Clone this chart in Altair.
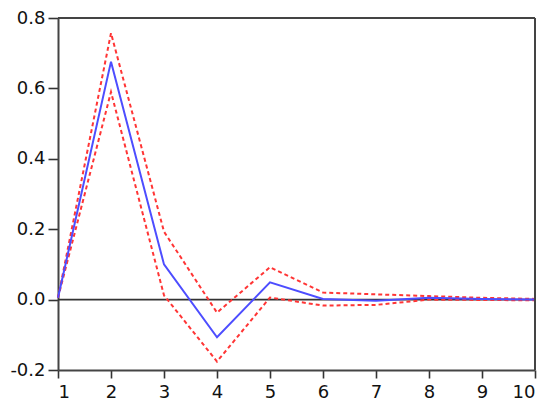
import altair as alt
import pandas as pd

periods = [1, 2, 3, 4, 5, 6, 7, 8, 9, 10]
response = [0.005, 0.676, 0.100, -0.107, 0.049, 0.002, -0.003, 0.005, 0.002, 0.000]
upper = [0.005, 0.757, 0.193, -0.037, 0.092, 0.020, 0.015, 0.010, 0.005, 0.002]
lower = [0.005, 0.590, 0.012, -0.176, 0.006, -0.017, -0.015, 0.000, -0.001, -0.002]
y_ticks = [-0.2, 0.0, 0.2, 0.4, 0.6, 0.8]

rows = []
for name, vals in [("response", response), ("upper", upper), ("lower", lower)]:
    for p, v in zip(periods, vals):
        rows.append({"period": p, "value": v, "series": name})
df = pd.DataFrame(rows)

W, H = 477, 352
xscale = alt.Scale(domain=[1, 10], nice=False, zero=False)
yscale = alt.Scale(domain=[-0.2, 0.8], nice=False)

FONT = "DejaVu Sans"
FRAME = "#444"
xaxis = alt.Axis(values=periods, format="d", grid=False, domain=True, domainColor=FRAME,
                 domainWidth=2, tickSize=8,
                 tickColor="#333", tickWidth=1.6, labelFontSize=18, labelColor="#111",
                 labelFont=FONT, labelPadding=5, title=None)
yaxis = alt.Axis(values=y_ticks, grid=False,
                 labelExpr="replace(format(datum.value, '.1f'), '\u2212', '-')",
                 domain=True, domainColor=FRAME, domainWidth=2,
                 tickSize=10, tickColor="#333", tickWidth=1.6, labelFontSize=18,
                 labelColor="#111", labelFont=FONT, labelPadding=3, title=None)

zero = alt.Chart(pd.DataFrame({"y": [0.0]})).mark_rule(color="#333", strokeWidth=1.6).encode(
    y=alt.Y("y:Q", scale=yscale, axis=yaxis)
)

top = alt.Chart(pd.DataFrame({"y": [0.8]})).mark_rule(color=FRAME, strokeWidth=2).encode(
    y=alt.Y("y:Q", scale=yscale, axis=yaxis)
)
right = alt.Chart(pd.DataFrame({"x": [10]})).mark_rule(color=FRAME, strokeWidth=2).encode(
    x=alt.X("x:Q", scale=xscale, axis=xaxis)
)

bands = alt.Chart(df[df.series != "response"]).mark_line(
    color="#ff3535", strokeWidth=2, strokeDash=[4, 3]
).encode(
    x=alt.X("period:Q", scale=xscale, axis=xaxis),
    y=alt.Y("value:Q", scale=yscale, axis=yaxis),
    detail="series:N",
)

main = alt.Chart(df[df.series == "response"]).mark_line(
    color="#4d4dff", strokeWidth=2
).encode(
    x=alt.X("period:Q", scale=xscale, axis=xaxis),
    y=alt.Y("value:Q", scale=yscale, axis=yaxis),
)

chart = alt.layer(zero, bands, main, top, right).properties(
    width=W, height=H,
    background="white",
    autosize=alt.AutoSizeParams(type="none"),
    padding={"left": 50, "top": 10, "right": 7, "bottom": 30},
).configure_view(stroke=None)

chart.save("out.html", embed_options={"renderer": "svg", "actions": False})
